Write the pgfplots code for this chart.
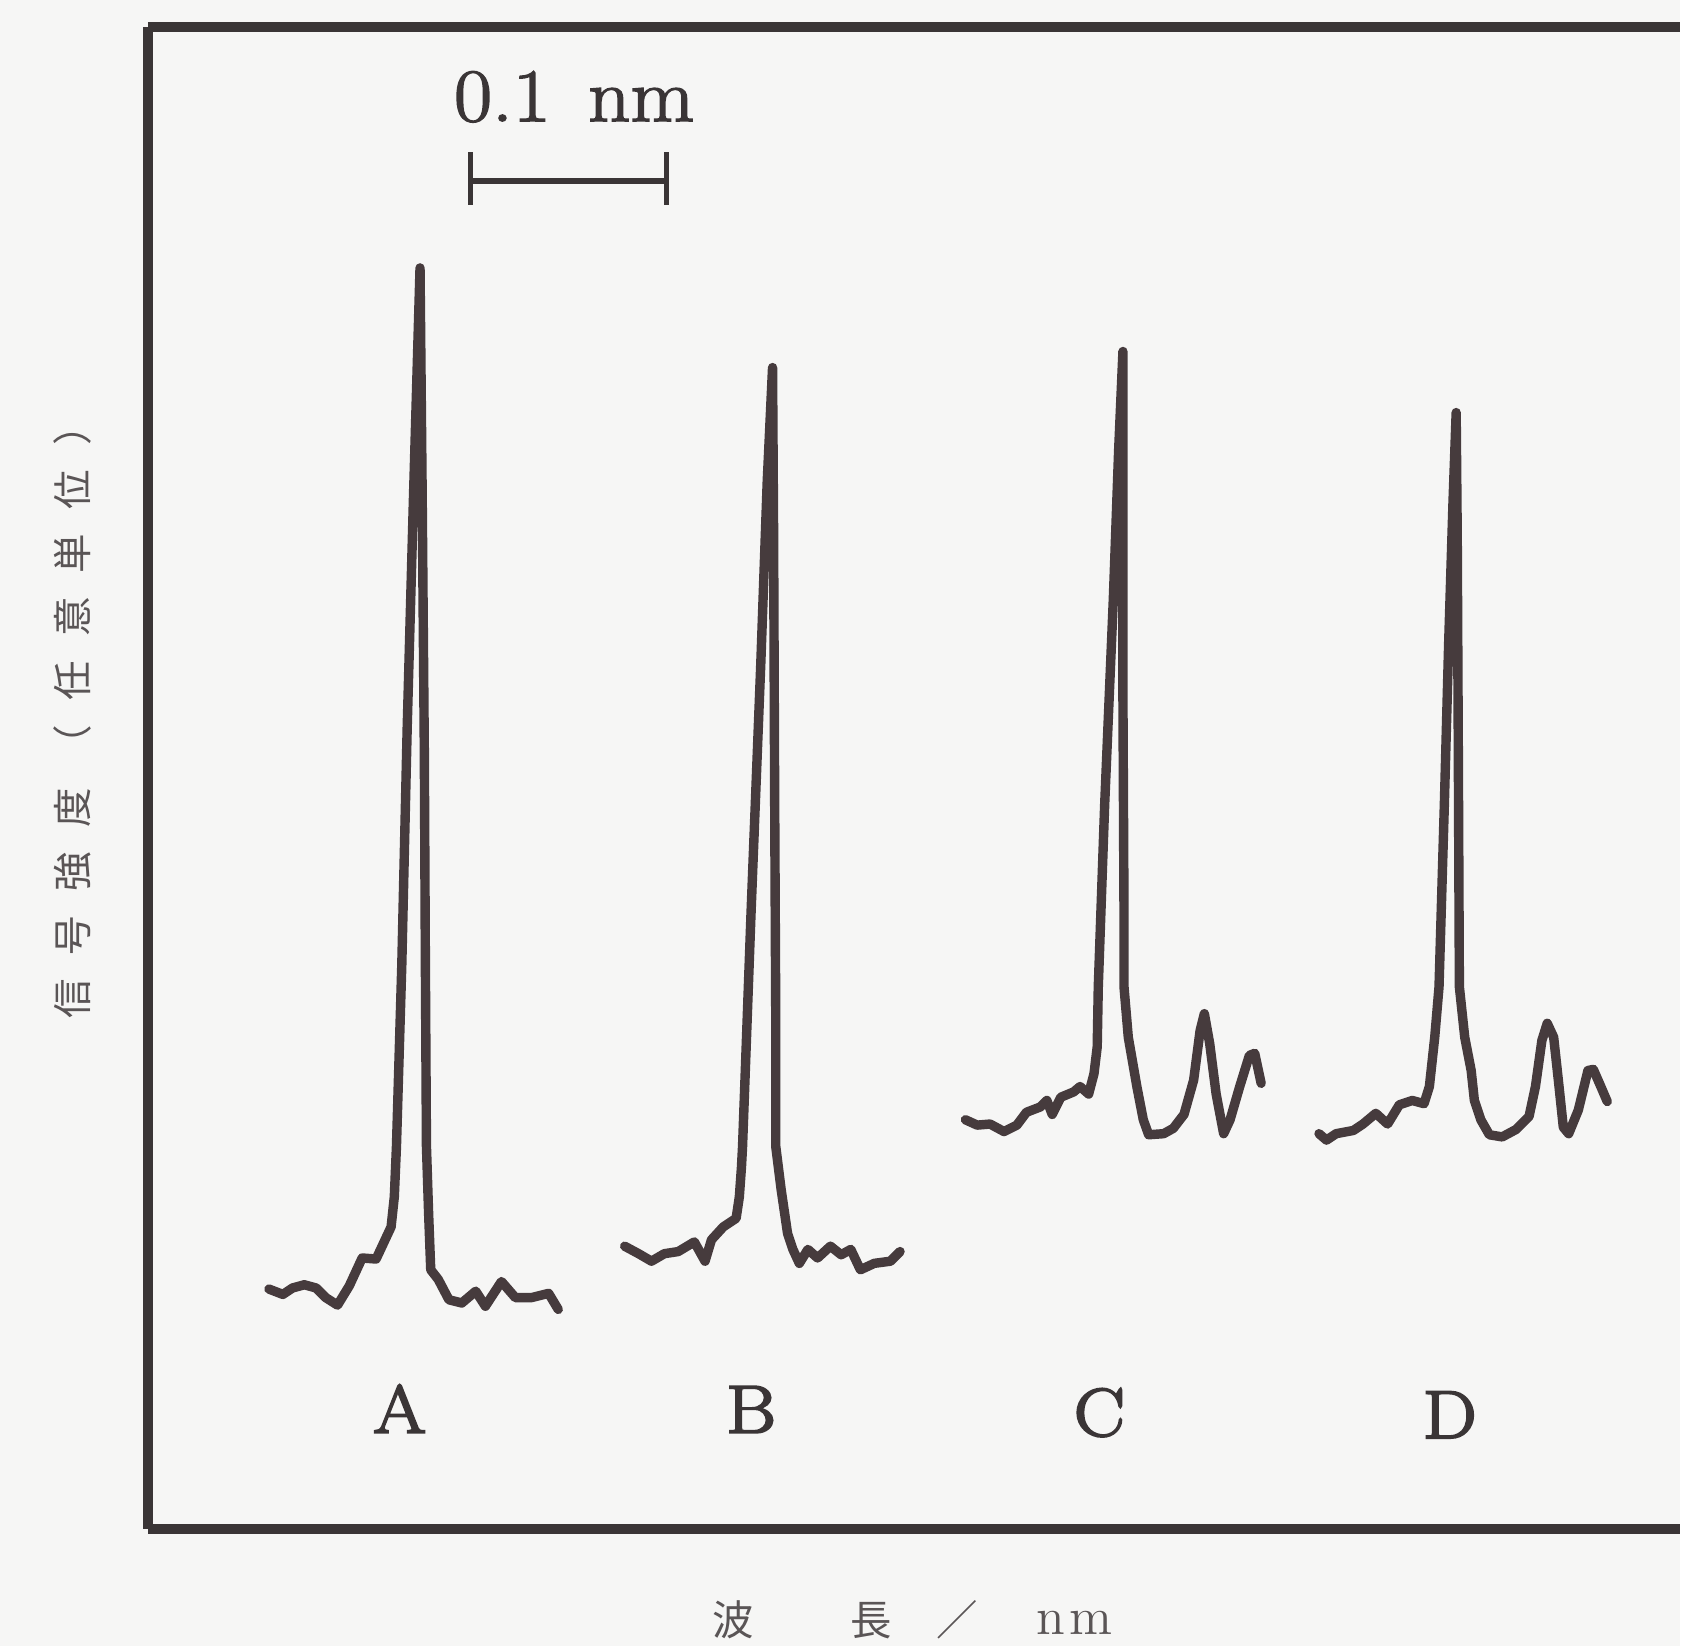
\documentclass[border=0pt]{standalone}
\usepackage{fontspec}
\usepackage{pgfplots}
\pgfplotsset{compat=1.18}
\newfontfamily\cjk{Noto Sans CJK JP}
\newfontfamily\heavyserif{Latin Modern Roman}[FakeBold=3]
\newfontfamily\midserif{Latin Modern Roman}[FakeBold=2]
\definecolor{ink}{HTML}{463B3D}
\definecolor{framecol}{HTML}{3A3536}
\definecolor{lab}{HTML}{5A5556}
\definecolor{bgpaper}{HTML}{F6F6F5}

\begin{document}
\begin{tikzpicture}[
    lettr/.style={text=framecol, xscale=1.12,
        font=\heavyserif\fontsize{18}{20}\selectfont},
]
\fill[bgpaper] (0,0) rectangle (15.68,-15.36);
\begin{axis}[
    at={(1.38cm,-14.27cm)}, anchor=south west,
    scale only axis,
    width=14.30cm, height=14.02cm,
    xmin=138, xmax=1568, ymin=25, ymax=1427,
    y dir=reverse,
    axis x line=box, axis y line*=left,
    ticks=none,
    clip=false,
    axis line style={framecol, line width=2.6pt},
    spec/.style={ink, line width=2.5pt, line join=round, line cap=round, mark=none},
]
% A
\addplot[spec] coordinates {
(251,1203) (264,1208) (273,1202) (284,1199) (295,1202) (304,1211) (315,1218)
(326,1200) (338,1174) (351,1175) (358,1160) (365,1145) (368,1117) (370,1070)
(375,900) (380,680) (386,460) (392,250) (394,460) (396,700) (397,900)
(398,1070) (400,1132) (402,1185) (409,1194) (419,1213) (431,1216) (444,1205)
(453,1219) (468,1196) (481,1211) (496,1211) (512,1207) (521,1222)
};
% B
\addplot[spec] coordinates {
(583,1163) (596,1170) (608,1177) (620,1170) (633,1168) (648,1159) (658,1177)
(664,1157) (675,1145) (687,1137) (690,1117) (692,1089) (693,1070) (701,850)
(710,620) (716,450) (721,343) (722,500) (723,750) (724,950) (724,1070)
(729,1110) (735,1151) (740,1166) (746,1179) (754,1166) (763,1174) (775,1163)
(785,1171) (794,1166) (803,1185) (816,1179) (831,1177) (840,1168)
};
% C
\addplot[spec] coordinates {
(901,1045) (912,1050) (924,1049) (937,1056) (949,1050) (958,1038) (971,1033)
(977,1027) (982,1040) (990,1024) (1002,1019) (1008,1014) (1016,1021) (1021,1002)
(1024,977) (1025,921) (1031,750) (1039,560) (1044,420) (1048,328) (1048,450)
(1048,650) (1049,850) (1049,921) (1053,968) (1061,1014) (1067,1045) (1072,1059)
(1086,1058) (1095,1053) (1105,1040) (1114,1008) (1120,962) (1124,946) (1129,974)
(1135,1021) (1142,1058) (1148,1045) (1157,1014) (1166,985) (1171,983) (1177,1011)
};
% D
\addplot[spec] coordinates {
(1231,1058) (1238,1064) (1247,1058) (1263,1055) (1272,1049) (1284,1039) (1295,1049)
(1306,1031) (1318,1027) (1329,1030) (1334,1014) (1339,968) (1343,921) (1348,750)
(1352,600) (1356,470) (1359,385) (1360,500) (1361,700) (1362,921) (1367,968)
(1373,999) (1376,1027) (1382,1045) (1390,1059) (1402,1061) (1415,1054) (1427,1042)
(1433,1014) (1439,971) (1444,955) (1450,968) (1455,1014) (1459,1052) (1464,1058)
(1473,1036) (1482,999) (1487,998) (1494,1014) (1500,1028)
};

% scale bar
\draw[framecol, line width=1.4pt] (axis cs:439,169) -- (axis cs:622,169);
\draw[framecol, line width=1.4pt] (axis cs:439,142) -- (axis cs:439,191);
\draw[framecol, line width=1.4pt] (axis cs:622,142) -- (axis cs:622,191);
\node[anchor=base west, text=framecol, inner sep=0pt, xscale=1.1,
      font=\midserif\fontsize{20}{22}\selectfont] at (axis cs:423,113) {0.1\hspace{0.45em}nm};

% sample labels
\node[lettr, anchor=base] at (axis cs:373,1337) {A};
\node[lettr, anchor=base] at (axis cs:701,1337) {B};
\node[lettr, anchor=base] at (axis cs:1026,1340) {C};
\node[lettr, anchor=base] at (axis cs:1353,1342) {D};

% axis titles
\node[rotate=90, text=lab, font=\cjk\fontsize{10.5}{12}\selectfont] at (axis cs:68,665)
  {信\hspace{6.4pt}号\hspace{6.4pt}強\hspace{6.4pt}度\hspace{6.4pt}（\hspace{6.4pt}任\hspace{6.4pt}意\hspace{6.4pt}単\hspace{6.4pt}位\hspace{6.4pt}）};
\node[text=lab, font=\cjk\fontsize{11}{13}\selectfont] at (axis cs:684,1512) {波};
\node[text=lab, font=\cjk\fontsize{11}{13}\selectfont] at (axis cs:813,1512) {長};
\node[text=lab, font=\cjk\fontsize{11}{13}\selectfont] at (axis cs:893,1512) {／};
\node[text=lab, anchor=base, font=\fontsize{14}{16}\selectfont] at (axis cs:981,1525) {n};
\node[text=lab, anchor=base, font=\fontsize{14}{16}\selectfont] at (axis cs:1018,1525) {m};
\end{axis}
\end{tikzpicture}
\end{document}
